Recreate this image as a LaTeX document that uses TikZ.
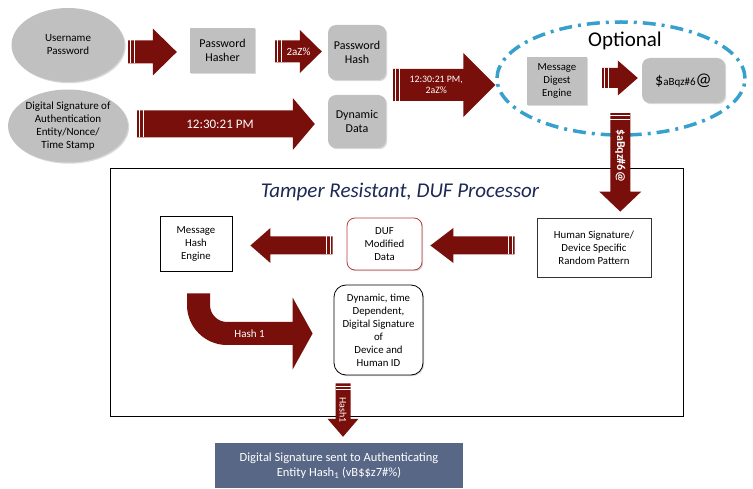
\documentclass[tikz,border=0pt]{standalone}
\usepackage{fontspec}
\setmainfont{Carlito}
\usetikzlibrary{shapes.geometric,calc,shadows}

\definecolor{arrowred}{RGB}{120,15,10}
\definecolor{boxgray}{RGB}{192,192,192}
\definecolor{dashblue}{RGB}{55,160,205}
\definecolor{titlenavy}{RGB}{30,40,85}
\definecolor{slate}{RGB}{88,103,134}
\definecolor{dufred}{RGB}{185,60,60}

% striped block arrow: from, to, shaft half width, head half width, head length, label options, label
\newcommand\StripeArrow[7]{%
    \fill[arrowred] ($(#1)!#3!90:(#2)$) -- ($(#2)!#5!(#1)!#3!-90:(#1)$)
        -- ($(#2)!#5!(#1)!#4!-90:(#1)$) -- (#2)
        -- ($(#2)!#5!(#1)!#4!90:(#1)$) -- ($(#2)!#5!(#1)!#3!90:(#1)$)
        -- ($(#1)!#3!-90:(#2)$) -- cycle;
    \foreach \s in {2.6pt,5.8pt}
        \draw[white, line width=0.9pt] ($(#1)!\s!(#2)!#3!90:(#2)$) -- ($(#1)!\s!(#2)!#3!-90:(#2)$);
    \node[arrowlabel,#6] at ($(#1)!0.5!(#2)$) {#7};
}

\tikzset{
    boxfont/.style={font=\fontsize{10.8}{13}\selectfont},
    bigfont/.style={font=\fontsize{12}{13.5}\selectfont},
    shade/.style={drop shadow={opacity=0.3,shadow xshift=1.2pt,shadow yshift=-1.2pt}},
    grayellipse/.style={ellipse, fill=boxgray, font=\fontsize{11}{13}\selectfont, align=center, inner sep=0pt,
        minimum width=113pt, minimum height=74pt, shade},
    graybox/.style={rectangle, fill=boxgray, boxfont, align=center, inner sep=0pt, shade},
    grayround/.style={graybox, rounded corners=8pt},
    whitebox/.style={rectangle, draw=black, line width=0.8pt, fill=white, boxfont,
        align=center, inner sep=0pt, shade},
    arrowlabel/.style={text=white, align=center, inner sep=0pt, font=\fontsize{11}{12}\selectfont},
}

\begin{document}
\begin{tikzpicture}[x=1pt,y=1pt]
    \useasboundingbox (0,0) rectangle (753,488);

    % inputs
    \node[grayellipse] (up) at (68,443) {Username\\Password};
    \node[grayellipse, minimum width=112pt, minimum height=73pt] (dsig) at (68,362)
        {Digital Signature of\\Authentication\\Entity/Nonce/\\Time Stamp};
    \node[graybox, bigfont, minimum width=65pt, minimum height=45pt] (hasher) at (222.5,437.5) {Password\\Hasher};
    \node[grayround, bigfont, minimum width=58pt, minimum height=55pt] (phash) at (357,435.5) {Password\\Hash};
    \node[grayround, bigfont, minimum width=58pt, minimum height=53pt] (dyn) at (357,366.5) {Dynamic\\Data};

    % optional part
    \node[ellipse, draw=dashblue, line width=3.5pt, dash pattern=on 13pt off 6pt on 3pt off 6pt,
        minimum width=248pt, minimum height=113pt] (optional) at (621,409.5) {};
    \node[font=\fontsize{21}{24}\selectfont] (optlabel) at (625,447) {Optional};
    \node[graybox, minimum width=60pt, minimum height=48pt] (mde) at (557,407) {Message\\Digest\\Engine};
    \node[grayround, minimum width=83pt, minimum height=45pt] (dig) at (683.5,407.5)
        {{\fontsize{16}{18}\selectfont\$}{\fontsize{11}{12}\selectfont aBqz\#6}{\fontsize{18}{18}\selectfont @}};

    % processor
    \node[rectangle, draw=black, line width=0.8pt, fill=white, shade,
        minimum width=573pt, minimum height=248pt] (proc) at (396.5,196) {};
    \node[font=\fontsize{21}{24}\selectfont\itshape, text=titlenavy] (title) at (400,296)
        {Tamper Resistant, DUF Processor};
    \node[whitebox, minimum width=72pt, minimum height=55pt] (mhe) at (196,244.5) {Message\\Hash\\Engine};
    \node[whitebox, draw=dufred, rounded corners=8pt, minimum width=75pt, minimum height=52pt] (duf)
        at (384.5,244) {DUF\\Modified\\Data};
    \node[whitebox, draw=black!80, minimum width=114pt, minimum height=59pt] (human) at (594,240.5)
        {Human Signature/\\Device Specific\\Random Pattern};
    \node[whitebox, rounded corners=12pt, minimum width=89pt, minimum height=90pt] (dynsig) at (378.5,158)
        {Dynamic, time\\Dependent,\\Digital Signature\\of\\Device and\\Human ID};

    % result
    \node[fill=slate, text=white, align=center, inner sep=0pt, minimum width=248pt, minimum height=45pt,
        font=\fontsize{12.5}{15}\selectfont] (final) at (339,22.5)
        {Digital Signature sent to Authenticating\\Entity Hash\textsubscript{1} (vB\$\$z7\#\%)};

    % arrow ends
    \coordinate (a1s) at ($(up.east |- hasher.west)+(3.5pt,-1.5pt)$);
    \coordinate (a1e) at ($(hasher.west)+(-13pt,-1.5pt)$);
    \coordinate (a2s) at ($(hasher.east)+(20pt,-1pt)$);
    \coordinate (a2e) at ($(phash.west |- hasher.east)+(-6pt,-1pt)$);
    \coordinate (a3s) at ($(dsig.east |- dyn.west)+(9pt,-2.5pt)$);
    \coordinate (a3e) at ($(dyn.west)+(-13pt,-2.5pt)$);
    \coordinate (a4s) at ($(phash.east)!0.5!(dyn.east)+(7pt,2pt)$);
    \coordinate (a4e) at (optional.west |- a4s);
    \coordinate (a5s) at ($(mde.east)+(15pt,3pt)$);
    \coordinate (a5e) at ($(dig.west |- a5s)+(-4pt,0)$);
    \coordinate (a6s) at ($(mde.south)!0.5!(dig.south)+(0,-9pt)$);
    \coordinate (a6e) at ($(a6s |- human.north)+(0,6pt)$);
    \coordinate (a7s) at ($(human.west |- duf.east)+(-22pt,-1.5pt)$);
    \coordinate (a7e) at ($(duf.east)+(8pt,-1.5pt)$);
    \coordinate (a8s) at ($(duf.west)+(-14pt,-1.5pt)$);
    \coordinate (a8e) at ($(mhe.east |- duf.west)+(18pt,-1.5pt)$);
    \coordinate (a9s) at ($(dynsig.south -| final.north)+(4pt,-8pt)$);
    \coordinate (a9e) at ($(final.north)+(4pt,6pt)$);

    \StripeArrow{a1s}{a1e}{11.5pt}{23.5pt}{24pt}{name=lbl1}{}
    \StripeArrow{a2s}{a2e}{11pt}{21.5pt}{22pt}{name=lbl2}{2aZ\%}
    \StripeArrow{a3s}{a3e}{13.5pt}{26pt}{22pt}{name=lbl3, xshift=-6pt, font=\fontsize{13}{14}\selectfont}{12:30:21 PM}
    \StripeArrow{a4s}{a4e}{16pt}{32pt}{32pt}{name=lbl4, xshift=-8pt, font=\fontsize{9.8}{11}\selectfont}{12:30:21 PM,\\2aZ\%}
    \StripeArrow{a5s}{a5e}{10pt}{17.5pt}{20pt}{name=lbl5}{}
    \StripeArrow{a6s}{a6e}{10pt}{21pt}{20pt}{name=lbl6, yshift=7pt, rotate=-90, font=\fontsize{12}{13}\selectfont\bfseries}{\$aBqz\#6@}
    \StripeArrow{a7s}{a7e}{9pt}{17.5pt}{23pt}{name=lbl7}{}
    \StripeArrow{a8s}{a8e}{9pt}{17.5pt}{20pt}{name=lbl8}{}
    \StripeArrow{a9s}{a9e}{7.5pt}{15.5pt}{18pt}{name=lbl9, rotate=-90, font=\fontsize{10}{11}\selectfont}{Hash1}

    % bent arrow
    \coordinate (bendtop) at ($(mhe.south)+(2.5pt,-22pt)$);
    \coordinate (bendtip) at ($(dynsig.west)+(-21pt,-3.5pt)$);
    \fill[arrowred] ($(bendtop)+(-11.5pt,0)$) -- ($(bendtop |- bendtip)+(-11.5pt,28.5pt)$)
        arc[start angle=180, end angle=270, radius=40pt] -- ($(bendtip)+(-20pt,-11.5pt)$)
        -- ($(bendtip)+(-20pt,-36pt)$) -- (bendtip) -- ($(bendtip)+(-20pt,36pt)$)
        -- ($(bendtip)+(-20pt,11.5pt)$) -- ($(bendtop |- bendtip)+(28.5pt,11.5pt)$)
        arc[start angle=270, end angle=180, radius=17pt] -- ($(bendtop)+(11.5pt,0)$) -- cycle;
    \node[arrowlabel] (hashone) at ($(bendtip)+(-63pt,0)$) {Hash 1};
\end{tikzpicture}
\end{document}
